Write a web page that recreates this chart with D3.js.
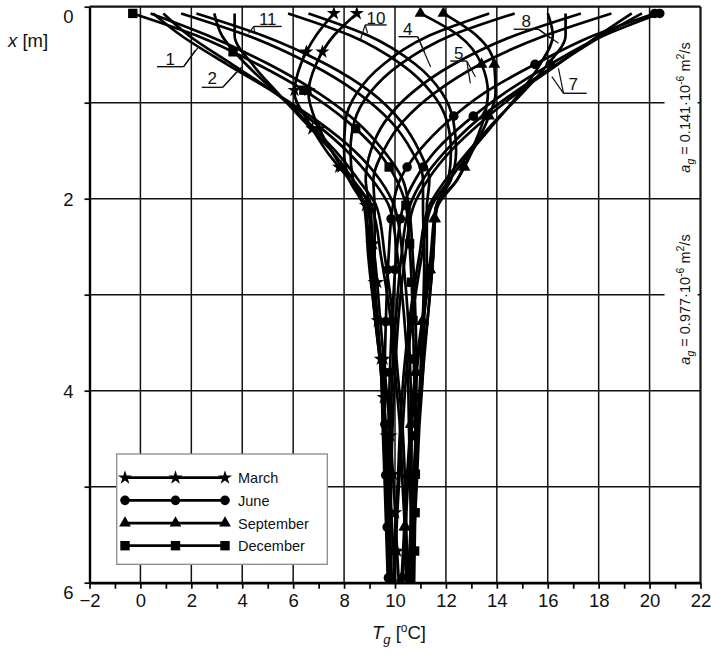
<!DOCTYPE html>
<html><head><meta charset="utf-8">
<script src="https://cdn.jsdelivr.net/npm/d3@7"></script>
<style>
body{margin:0;background:#fff}
svg{display:block}
text{font-family:"Liberation Sans",Arial,Helvetica,sans-serif;fill:#111}
</style>
</head><body>
<svg id="chart" width="711" height="654"></svg>
<script>
// ---------- data ----------
const depths = [0.07, 0.3, 0.6, 0.9, 1.2, 1.5, 1.8, 2.1, 2.6, 3.2, 3.8, 4.4, 5.0, 5.5, 6.0];

const jan_a = [0.5, 1.6, 3.4, 5.3, 7.0, 8.4, 9.4, 10.0, 10.3, 10.5, 10.6, 10.65, 10.65, 10.65, 10.62];
const jan_b = [0.9, 1.9, 3.6, 5.3, 6.8, 8.1, 9.1, 9.8, 10.1, 10.35, 10.5, 10.55, 10.6, 10.62, 10.62];
const feb_a = [2.9, 3.2, 4.15, 5.35, 6.55, 7.65, 8.55, 9.3, 9.6, 9.9, 10.1, 10.3, 10.4, 10.45, 10.5];
const feb_b = [3.7, 3.7, 4.4, 5.4, 6.45, 7.5, 8.35, 9.1, 9.45, 9.8, 10.0, 10.2, 10.3, 10.4, 10.45];
const mar_a = [7.6, 6.9, 6.3, 6.05, 6.6, 7.3, 8.2, 9.05, 9.12, 9.3, 9.48, 9.65, 9.8, 9.9, 10.0];
const mar_b = [8.5, 7.6, 6.9, 6.6, 6.9, 7.5, 8.2, 8.9, 9.2, 9.4, 9.6, 9.8, 9.95, 10.05, 10.15];
const apr_a = [13.7, 11.35, 9.55, 8.5, 8.05, 8.0, 8.2, 8.8, 8.95, 9.2, 9.5, 9.62, 9.72, 9.8, 9.88];
const apr_b = [14.7, 12.2, 10.2, 9.0, 8.4, 8.25, 8.35, 8.85, 9.0, 9.2, 9.45, 9.58, 9.7, 9.78, 9.85];
const may_a = [17.3, 14.7, 12.3, 10.65, 9.6, 9.05, 8.85, 9.0, 9.05, 9.2, 9.45, 9.55, 9.63, 9.7, 9.75];
const may_b = [18.5, 15.9, 13.35, 11.55, 10.3, 9.55, 9.15, 9.2, 9.2, 9.25, 9.45, 9.52, 9.6, 9.66, 9.72];
const jun_a = [20.2, 17.8, 15.5, 13.5, 12.05, 10.95, 10.2, 9.9, 9.75, 9.65, 9.6, 9.6, 9.65, 9.7, 9.75];
const jun_b = [20.4, 18.2, 16.1, 14.3, 12.8, 11.6, 10.8, 10.3, 10.05, 9.9, 9.8, 9.75, 9.72, 9.72, 9.75];
const jul_a = [19.3, 18.0, 16.4, 14.8, 13.4, 12.2, 11.3, 10.7, 10.4, 10.15, 10.0, 9.9, 9.85, 9.82, 9.8];
const jul_b = [19.7, 18.15, 16.35, 14.65, 13.15, 12.0, 11.1, 10.55, 10.25, 10.05, 9.9, 9.82, 9.79, 9.77, 9.77];
const aug_a = [16.0, 16.2, 15.7, 14.9, 13.95, 13.0, 12.15, 11.4, 11.05, 10.7, 10.45, 10.3, 10.15, 10.05, 10.0];
const aug_b = [16.7, 16.7, 16.0, 15.0, 13.9, 12.9, 12.0, 11.3, 10.95, 10.6, 10.35, 10.2, 10.1, 10.0, 9.95];
const sep_a = [11.0, 12.5, 13.4, 13.65, 13.45, 13.0, 12.45, 11.65, 11.45, 11.15, 10.85, 10.65, 10.5, 10.4, 10.3];
const sep_b = [11.9, 13.2, 13.9, 13.95, 13.6, 13.05, 12.45, 11.6, 11.4, 11.1, 10.8, 10.6, 10.45, 10.35, 10.25];
const oct_a = [5.8, 8.25, 10.25, 11.45, 12.05, 12.2, 12.1, 11.6, 11.5, 11.3, 11.1, 10.9, 10.75, 10.65, 10.55];
const oct_b = [6.6, 8.95, 10.8, 11.85, 12.3, 12.4, 12.2, 11.6, 11.5, 11.3, 11.05, 10.85, 10.7, 10.6, 10.5];
const nov_a = [1.6, 4.2, 6.7, 8.55, 9.85, 10.65, 11.1, 11.1, 11.15, 11.1, 11.0, 10.9, 10.8, 10.75, 10.7];
const nov_b = [2.2, 4.8, 7.3, 9.1, 10.25, 10.95, 11.35, 11.25, 11.25, 11.15, 11.1, 10.95, 10.85, 10.75, 10.65];
const dec_a = [-0.3, 2.2, 4.6, 6.6, 8.15, 9.3, 10.05, 10.45, 10.6, 10.7, 10.75, 10.8, 10.8, 10.78, 10.75];
const dec_b = [0.4, 2.65, 5.05, 7.0, 8.5, 9.55, 10.3, 10.55, 10.7, 10.8, 10.85, 10.8, 10.78, 10.74, 10.7];

// marker depths (along the curves)
const starDepths = [0.07, 0.47, 0.87, 1.27, 1.67, 2.07, 2.47, 2.87, 3.27, 3.67, 4.07, 4.47, 4.87, 5.27, 5.67];
const circleDepths = [0.07, 0.6, 1.14, 1.67, 2.21, 2.74, 3.28, 3.81, 4.35, 4.88, 5.42, 5.95];
const triangleDepths = [0.07, 0.6, 1.14, 1.67, 2.21, 2.74, 3.28, 3.81, 4.35, 4.88, 5.42, 5.95];
const squareDepths = [0.07, 0.47, 0.87, 1.27, 1.67, 2.07, 2.47, 2.87, 3.27, 3.67, 4.07, 4.47, 4.87, 5.27, 5.67];

const xTickValues = [-2, -1, 0, 1, 2, 3, 4, 5, 6, 7, 8, 9, 10, 11, 12, 13, 14, 15, 16, 17, 18, 19, 20, 21, 22];
const xGridValues = [0, 2, 4, 6, 8, 10, 12, 14, 16, 18, 20];
const yTickValues = [0, 1, 2, 3, 4, 5, 6];
const yGridValues = [1, 2, 3, 4, 5];

const legendNames = ["March", "June", "September", "December"];
const legendSymbols = ["star", "circle", "triangle", "square"];

// curve number annotations (data coords): label, text pos, underline, leader ends
const curveLabels = [
  {t:"1",  tx:1.17, td:0.607, u0:0.65, u1:1.70, ud:0.625, from:"u1", ends:[[2.16,0.451],[2.29,0.417]]},
  {t:"2",  tx:2.82, td:0.81,  u0:2.41, u1:3.23, ud:0.84,  from:"u1", ends:[[3.78,0.68],[3.98,0.628]]},
  {t:"11", tx:5.0,  td:0.19,  u0:4.45, u1:5.55, ud:0.206, from:"u0", ends:[[4.25,0.279],[4.49,0.264]]},
  {t:"10", tx:9.25, td:0.175, u0:8.83, u1:9.67, ud:0.19,  from:"u0", ends:[[8.64,0.347],[8.92,0.274]]},
  {t:"4",  tx:10.5, td:0.295, u0:10.14,u1:10.89,ud:0.3125,from:"u1", ends:[[11.16,0.472],[11.40,0.628]]},
  {t:"5",  tx:12.5, td:0.545, u0:12.17,u1:12.82,ud:0.566, from:"u1", ends:[[12.96,0.798],[13.16,0.732]]},
  {t:"8",  tx:15.15,td:0.211, u0:14.66,u1:15.64,ud:0.235, from:"u1", ends:[[16.10,0.329],[16.42,0.381]]},
  {t:"7",  tx:17.0, td:0.868, u0:16.62,u1:17.53,ud:0.902, from:"u0", ends:[[16.16,0.729],[16.42,0.642]]}
];

// ---------- build ----------
const svg = d3.select("#chart");
const x = d3.scaleLinear().domain([-2, 22]).range([89.5, 700.5]);
const y = d3.scaleLinear().domain([0, 6]).range([6.7, 582.7]);

svg.append("rect").attr("width", 711).attr("height", 654).attr("fill", "#fff");

// grid
const grid = svg.append("g").attr("stroke", "#111").attr("stroke-width", 1.5);
grid.selectAll(".vg").data(xGridValues).join("line")
  .attr("x1", d => x(d)).attr("x2", d => x(d)).attr("y1", y(0)).attr("y2", y(6));
grid.selectAll(".hg").data(yGridValues).join("line")
  .attr("x1", x(-2)).attr("x2", x(22)).attr("y1", d => y(d)).attr("y2", d => y(d));

// curves
const months = [
  {a: jan_a, b: jan_b}, {a: feb_a, b: feb_b}, {a: mar_a, b: mar_b, sym: "star", md: starDepths, both: true},
  {a: apr_a, b: apr_b}, {a: may_a, b: may_b}, {a: jun_a, b: jun_b, sym: "circle", md: circleDepths, both: true},
  {a: jul_a, b: jul_b}, {a: aug_a, b: aug_b}, {a: sep_a, b: sep_b, sym: "triangle", md: triangleDepths, both: true},
  {a: oct_a, b: oct_b}, {a: nov_a, b: nov_b}, {a: dec_a, b: dec_b, sym: "square", md: squareDepths, both: false}
];
const line = d3.line().x(d => x(d[0])).y(d => y(d[1])).curve(d3.curveMonotoneY);
const curveG = svg.append("g");
const symbolOf = {
  star: d3.symbol().type(d3.symbolStar).size(62),
  circle: d3.symbol().type(d3.symbolCircle).size(72),
  triangle: d3.symbol().type(d3.symbolTriangle).size(60),
  square: d3.symbol().type(d3.symbolSquare).size(88)
};
const markerJobs = [];
months.forEach(m => {
  ["a", "b"].forEach(k => {
    const pts = m[k].map((t, i) => [t, depths[i]]);
    const p = curveG.append("path").attr("d", line(pts))
      .attr("fill", "none").attr("stroke", "#000").attr("stroke-width", 2.7)
      .attr("stroke-linejoin", "round");
    if (m.sym && (k === "a" || m.both)) markerJobs.push({node: p.node(), sym: m.sym, md: m.md});
  });
});
function pointAtY(node, yt) {
  let lo = 0, hi = node.getTotalLength();
  for (let i = 0; i < 40; i++) {
    const mid = (lo + hi) / 2;
    const pt = node.getPointAtLength(mid);
    if (pt.y < yt) lo = mid; else hi = mid;
  }
  return node.getPointAtLength((lo + hi) / 2);
}
const markG = svg.append("g");
markerJobs.forEach(job => {
  job.md.forEach(dd => {
    const pt = pointAtY(job.node, y(dd));
    markG.append("path").attr("d", symbolOf[job.sym]())
      .attr("transform", `translate(${pt.x},${pt.y})`).attr("fill", "#000");
  });
});

// frame (top/right)
svg.append("line").attr("x1", x(-2)).attr("x2", x(22)).attr("y1", y(0)).attr("y2", y(0))
  .attr("stroke", "#111").attr("stroke-width", 2.2);
svg.append("line").attr("x1", x(22)).attr("x2", x(22)).attr("y1", y(0)).attr("y2", y(6))
  .attr("stroke", "#111").attr("stroke-width", 2.2);

// right-side texts
const agTexts = [{d: 1.05, v: "0.141"}, {d: 3.05, v: "0.977"}];
agTexts.forEach(a => {
  const cx = x(21.57), cy = y(a.d);
  svg.append("rect").attr("x", cx - 25).attr("y", cy - 74).attr("width", 33).attr("height", 148).attr("fill", "#fff");
  const t = svg.append("text").attr("transform", `translate(${cx},${cy}) rotate(-90)`)
    .attr("text-anchor", "middle").attr("font-size", 14.5);
  t.append("tspan").attr("font-style", "italic").text("a");
  t.append("tspan").attr("font-style", "italic").attr("font-size", 10.5).attr("dy", 4).text("g");
  t.append("tspan").attr("dy", -4).text(" = " + a.v + "·10");
  t.append("tspan").attr("font-size", 10.5).attr("dy", -6).text("-6");
  t.append("tspan").attr("dy", 6).text(" m");
  t.append("tspan").attr("font-size", 10.5).attr("dy", -6).text("2");
  t.append("tspan").attr("dy", 6).text("/s");
});

// legend
const lg = svg.append("g");
lg.append("rect").attr("x", 116.7).attr("y", 454).attr("width", 210.6).attr("height", 110.3)
  .attr("fill", "#fff").attr("stroke", "#8a8a8a").attr("stroke-width", 1.3);
const legendY = d3.scalePoint().domain(legendNames).range([477.7, 545.7]);
legendNames.forEach((n, i) => {
  const yy = legendY(n);
  lg.append("line").attr("x1", 125).attr("x2", 225).attr("y1", yy).attr("y2", yy)
    .attr("stroke", "#000").attr("stroke-width", 2.7);
  [125, 175.5, 225].forEach(xx => {
    lg.append("path").attr("d", symbolOf[legendSymbols[i]]())
      .attr("transform", `translate(${xx},${yy})`).attr("fill", "#000");
  });
  lg.append("text").attr("x", 238).attr("y", yy + 5.5).attr("font-size", 14.5).text(n);
});

// curve number labels
const labG = svg.append("g");
curveLabels.forEach(l => {
  labG.append("text").attr("x", x(l.tx)).attr("y", y(l.td)).attr("text-anchor", "middle")
    .attr("font-size", 17).text(l.t);
  labG.append("line").attr("x1", x(l.u0)).attr("x2", x(l.u1)).attr("y1", y(l.ud)).attr("y2", y(l.ud))
    .attr("stroke", "#111").attr("stroke-width", 1.4);
  const sx = l.from === "u0" ? l.u0 : l.u1;
  l.ends.forEach(e => {
    labG.append("line").attr("x1", x(sx)).attr("y1", y(l.ud)).attr("x2", x(e[0])).attr("y2", y(e[1]))
      .attr("stroke", "#111").attr("stroke-width", 1.2);
  });
});

// axes
const xAxis = d3.axisBottom(x).tickValues(xTickValues).tickSize(6).tickSizeOuter(0)
  .tickFormat(d => (d % 2 === 0 ? d3.format("d")(d).replace("-", "−") : ""));
const gx = svg.append("g").attr("transform", `translate(0,${y(6)})`).call(xAxis);
gx.select(".domain").attr("stroke", "#000").attr("stroke-width", 2.8);
gx.selectAll(".tick line").attr("stroke", "#000").attr("stroke-width", 1.7);
gx.selectAll(".tick text").attr("font-size", 18.5).attr("fill", "#111").attr("y", 11).attr("dy", "0.71em")
  .attr("font-family", '"Liberation Sans",Arial,sans-serif');

const yAxis = d3.axisLeft(y).tickValues(yTickValues).tickSize(5).tickSizeOuter(0)
  .tickFormat(d => (d % 2 === 0 ? String(d) : ""));
const gy = svg.append("g").attr("transform", `translate(${x(-2)},0)`).call(yAxis);
gy.select(".domain").attr("stroke", "#000").attr("stroke-width", 2.4);
gy.selectAll(".tick line").attr("stroke", "#000").attr("stroke-width", 1.7);
gy.selectAll(".tick text").attr("font-size", 18.5).attr("fill", "#111").attr("x", -16)
  .attr("dy", d => (d === 0 || d === 6) ? "0.85em" : "0.35em")
  .attr("font-family", '"Liberation Sans",Arial,sans-serif');

// axis titles
const yt = svg.append("text").attr("x", 8).attr("y", 47).attr("font-size", 18.5);
yt.append("tspan").attr("font-style", "italic").text("x");
yt.append("tspan").text(" [m]");

const xt = svg.append("text").attr("x", 399).attr("y", 639).attr("text-anchor", "middle").attr("font-size", 18.5);
xt.append("tspan").attr("font-style", "italic").text("T");
xt.append("tspan").attr("font-style", "italic").attr("font-size", 13).attr("dy", 5).text("g");
xt.append("tspan").attr("dy", -5).text(" [");
xt.append("tspan").attr("font-size", 12).attr("dy", -7).text("o");
xt.append("tspan").attr("dy", 7).text("C]");
</script>
</body></html>
